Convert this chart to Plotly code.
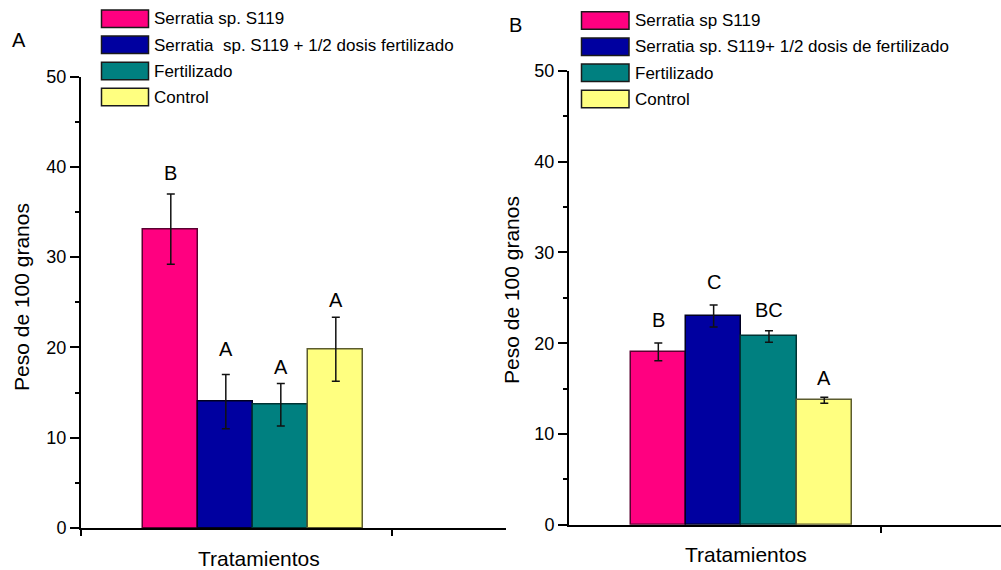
import plotly.graph_objects as go

# ---- data -------------------------------------------------------------
treatments_a = ["Serratia sp. S119",
                "Serratia  sp. S119 + 1/2 dosis fertilizado",
                "Fertilizado",
                "Control"]
treatments_b = ["Serratia sp S119",
                "Serratia sp. S119+ 1/2 dosis de fertilizado",
                "Fertilizado",
                "Control"]

weight_a = [33.1, 14.0, 13.65, 19.8]
error_a = [3.9, 3.0, 2.35, 3.55]
letters_a = ["B", "A", "A", "A"]

weight_b = [19.05, 23.0, 20.75, 13.72]
error_b = [0.97, 1.2, 0.63, 0.33]
letters_b = ["B", "C", "BC", "A"]

y_ticks = [0, 10, 20, 30, 40, 50]

# ---- styling ----------------------------------------------------------
fills = ["#FF0080", "#0000A0", "#008080", "#FFFF80"]
edges = ["#5A0030", "#000020", "#003333", "#5C5C2E"]
FONT = "Liberation Sans, Arial, sans-serif"
W, H = 1001, 570

# letter heights (data units, centre of the text)
letter_y_a = [39.3, 19.8, 17.8, 25.2]
letter_y_b = [22.6, 26.8, 23.7, 16.2]

fig = go.Figure()

def px_x(p):
    return p / W

def px_y(p):
    return 1 - p / H

def add_panel(names, vals, errs, letters, letter_y, xa, ya):
    n = len(vals)
    for i in range(n):
        fig.add_trace(go.Bar(
            x=[1], y=[vals[i]], name=names[i],
            marker=dict(color=fills[i], line=dict(color=edges[i], width=1.5)),
            error_y=dict(type="data", array=[errs[i]], color="#111111",
                         thickness=1.5, width=4),
            xaxis=xa, yaxis=ya, showlegend=False,
        ))
    for i in range(n):
        xc = 1 + (i - (n - 1) / 2) * (1.0 / n)
        fig.add_annotation(x=xc, y=letter_y[i], text=letters[i],
                           xref=xa, yref=ya, showarrow=False,
                           yanchor="middle", xanchor="center",
                           font=dict(family=FONT, size=20, color="black"))

add_panel(treatments_a, weight_a, error_a, letters_a, letter_y_a, "x", "y")
add_panel(treatments_b, weight_b, error_b, letters_b, letter_y_b, "x2", "y2")

# legends drawn as swatch + label rows
def add_legend(names, x0, x1, y_top, step, text_x):
    for i, nm in enumerate(names):
        top = y_top + i * step
        fig.add_shape(type="rect", xref="paper", yref="paper",
                      x0=px_x(x0), x1=px_x(x1),
                      y0=px_y(top + 17.5), y1=px_y(top),
                      fillcolor=fills[i], line=dict(color="#1a1a1a", width=1.5))
        fig.add_annotation(x=px_x(text_x), y=px_y(top + 9), text=nm,
                           xref="paper", yref="paper", showarrow=False,
                           xanchor="left", yanchor="middle",
                           font=dict(family=FONT, size=17, color="black"))

add_legend(treatments_a, 101.5, 148.5, 10, 26.1, 152)
add_legend(treatments_b, 581.5, 629, 11.7, 26.2, 633)

# panel letters and axis titles
for txt, x, y in [("A", 19, 40), ("B", 515, 25)]:
    fig.add_annotation(x=px_x(x), y=px_y(y), text=txt, xref="paper", yref="paper",
                       showarrow=False, xanchor="center", yanchor="middle",
                       font=dict(family=FONT, size=20, color="black"))
for x, y in [(21, 297), (511, 290)]:
    fig.add_annotation(x=px_x(x), y=px_y(y), text="Peso de 100 granos",
                       xref="paper", yref="paper", showarrow=False, textangle=-90,
                       xanchor="center", yanchor="middle",
                       font=dict(family=FONT, size=21, color="black"))
for x, y in [(258.5, 558), (746, 554)]:
    fig.add_annotation(x=px_x(x), y=px_y(y), text="Tratamientos",
                       xref="paper", yref="paper", showarrow=False,
                       xanchor="center", yanchor="middle",
                       font=dict(family=FONT, size=21, color="black"))

x_start, x_tick = 0.2168, 1.63
xcommon = dict(showgrid=False, zeroline=False, showline=True, linecolor="black",
               linewidth=2, ticks="outside", ticklen=6, tickwidth=1.5,
               tickcolor="black", showticklabels=False, automargin=False,
               tickmode="array", tickvals=[x_start, x_tick])
ycommon = dict(showgrid=False, zeroline=False, showline=True, linecolor="black",
               linewidth=2, ticks="outside", ticklen=9, tickwidth=1.5,
               tickcolor="black", range=[0, 50], tickmode="array",
               tickvals=y_ticks, ticktext=[str(v) for v in y_ticks],
               tickfont=dict(family=FONT, size=18, color="black"),
               automargin=False,
               minor=dict(dtick=5, ticks="outside", ticklen=4, tickwidth=1.5,
                          tickcolor="black"))

fig.update_layout(
    width=W, height=H,
    margin=dict(l=0, r=0, t=0, b=0, pad=0, autoexpand=False),
    paper_bgcolor="white", plot_bgcolor="white",
    barmode="group", bargap=0, bargroupgap=0,
    xaxis=dict(domain=[81 / W, 506 / W], range=[x_start, 2.1486], anchor="y", **xcommon),
    yaxis=dict(domain=[(H - 528) / H, (H - 76.5) / H], anchor="x", **ycommon),
    xaxis2=dict(domain=[569 / W, 1.0], range=[0.2214, 2.1735], anchor="y2", **xcommon),
    yaxis2=dict(domain=[(H - 524.7) / H, (H - 71) / H], anchor="x2", **ycommon),
)

fig.write_html("out.html")
